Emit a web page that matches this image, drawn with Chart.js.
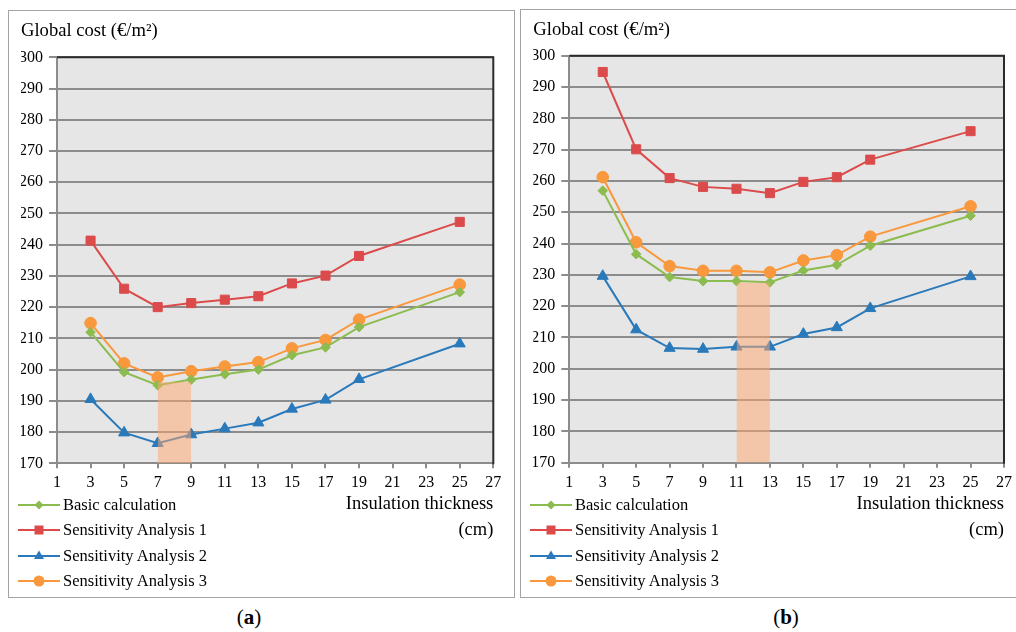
<!DOCTYPE html>
<html>
<head>
<meta charset="utf-8">
<script src="https://cdn.jsdelivr.net/npm/chart.js@4.4.1/dist/chart.umd.min.js"></script>
<style>
  body { margin: 0; background: #fff; font-family: "Liberation Serif", serif; }
  #page { position: relative; width: 1016px; height: 632px; overflow: hidden; }
  .panel { position: absolute; border: 1px solid #a3a3a3; box-sizing: border-box; }
  .panel canvas { position: absolute; left: 0; top: 0; }
  .legend { position: absolute; font-size: 16.5px; color: #000; }
  .legend .row { position: absolute; left: 0; height: 20px; display: flex; align-items: center; white-space: nowrap; }
  .legend svg { margin-right: 3px; }
  .caption { position: absolute; width: 80px; text-align: center; font-size: 21px; line-height: 24px; }
</style>
</head>
<body>
<div id="page">
  <div class="panel" style="left:8px; top:10px; width:507px; height:588px;">
    <canvas id="chartA" width="505" height="586"></canvas>
  </div>
  <div class="panel" style="left:520px; top:9px; width:498px; height:589px;">
    <canvas id="chartB" width="496" height="587"></canvas>
  </div>
  <div class="legend" id="legendA" style="left:18px; top:495px;"></div>
  <div class="legend" id="legendB" style="left:530px; top:495px;"></div>
  <div class="caption" style="left:209px; top:605px;">(<b>a</b>)</div>
  <div class="caption" style="left:746px; top:605px;">(<b>b</b>)</div>
</div>
<script>
// insulation thickness (cm)
const thickness = [3, 5, 7, 9, 11, 13, 15, 17, 19, 25];
const seriesNames = ['Basic calculation', 'Sensitivity Analysis 1', 'Sensitivity Analysis 2', 'Sensitivity Analysis 3'];

// panel (a) global cost (€/m²)
const basicA = [212.0, 199.2, 195.0, 196.8, 198.5, 200.0, 204.6, 207.1, 213.6, 224.8];
const sens1A = [241.3, 225.9, 220.0, 221.3, 222.4, 223.5, 227.6, 230.1, 236.4, 247.3];
const sens2A = [190.5, 179.8, 176.4, 179.2, 181.1, 183.0, 187.4, 190.3, 196.9, 208.3];
const sens3A = [214.9, 202.0, 197.5, 199.5, 201.0, 202.4, 206.8, 209.5, 216.0, 227.2];

// panel (b) global cost (€/m²)
const basicB = [256.9, 236.6, 229.3, 228.0, 228.0, 227.6, 231.4, 233.2, 239.3, 248.9];
const sens1B = [294.8, 270.1, 260.9, 258.1, 257.5, 256.1, 259.7, 261.2, 266.8, 275.9];
const sens2B = [229.6, 212.5, 206.6, 206.3, 207.0, 207.0, 211.1, 213.2, 219.3, 229.5];
const sens3B = [261.2, 240.4, 232.8, 231.3, 231.3, 230.8, 234.6, 236.3, 242.2, 251.9];

// shaded optimum range: thickness from/to and upper cost
const optimumA = [7, 9];
const optimumTopA = 196;
const optimumB = [11, 13];
const optimumTopB = 227.5;

// axes
const yMin = 170, yMax = 300, yStep = 10;
const xMin = 1, xMax = 27, xStep = 2;

const colors = ['#8cbc4f', '#dc4b4b', '#2a7abb', '#f9983c'];
const pointStyles = ['rectRot', 'rect', 'triangle', 'circle'];
const pointSizes = [4.8, 6.4, 6.4, 5.8];
const FONT = 'Liberation Serif';

const plotFrame = {
  id: 'plotFrame',
  beforeDraw(chart) {
    const { ctx, chartArea: a } = chart;
    ctx.save();
    ctx.fillStyle = '#e6e6e6';
    ctx.fillRect(a.left, a.top, a.width, a.height);
    ctx.restore();
  },
  beforeDatasetsDraw(chart) {
    const { ctx, chartArea: a } = chart;
    ctx.save();
    ctx.strokeStyle = '#2b2b2b';
    ctx.lineWidth = 2;
    ctx.beginPath();
    ctx.moveTo(a.left, a.top);
    ctx.lineTo(a.right, a.top);
    ctx.lineTo(a.right, a.bottom + 1);
    ctx.stroke();
    ctx.restore();
  }
};

function makeChart(id, series, band, bandTop, g) {
  const yAxisW = 36;
  const titleLH = 18.6 * 1.2;
  const titleTop = g.titleY - titleLH / 2;
  const xTitleLH = 26;
  const datasets = series.map((vals, i) => ({
    label: seriesNames[i],
    data: thickness.map((t, k) => ({ x: t, y: vals[k] })),
    borderColor: colors[i],
    backgroundColor: colors[i],
    borderWidth: 2,
    pointStyle: pointStyles[i],
    pointRadius: pointSizes[i],
    pointBorderWidth: 1,
    tension: 0
  }));
  datasets.push({
    label: 'optimum',
    data: [{ x: band[0], y: bandTop }, { x: band[1], y: bandTop }],
    borderColor: 'transparent',
    borderWidth: 0,
    pointRadius: 0,
    backgroundColor: 'rgba(255, 165, 110, 0.5)',
    fill: 'start',
    order: -1
  });
  return new Chart(document.getElementById(id), {
    type: 'line',
    data: { datasets },
    plugins: [plotFrame],
    options: {
      responsive: false,
      animation: false,
      layout: {
        padding: { left: g.left - yAxisW, right: g.w - g.right, top: 0, bottom: g.h - g.xBottom }
      },
      plugins: {
        legend: { display: false },
        tooltip: { enabled: false },
        title: {
          display: true,
          text: 'Global cost (€/m²)',
          align: 'start',
          color: '#000',
          font: { family: FONT, size: 18.6, weight: 'normal', lineHeight: 1.2 },
          padding: { top: titleTop, bottom: g.top - titleTop - titleLH }
        }
      },
      scales: {
        x: {
          type: 'linear',
          min: xMin, max: xMax,
          afterFit(scale) { scale.height = g.xBottom - g.bottom; },
          ticks: { stepSize: xStep, color: '#000', padding: 5, maxRotation: 0, font: { family: FONT, size: 16 } },
          grid: { drawOnChartArea: false, drawTicks: true, tickLength: 5, color: '#8c8c8c', lineWidth: 2 },
          border: { color: '#8c8c8c', width: 2 },
          title: {
            display: true,
            text: ['Insulation thickness', '(cm)'],
            align: 'end',
            color: '#000',
            font: { family: FONT, size: 18.5, lineHeight: xTitleLH / 18.5 },
            padding: { top: 0, bottom: 0 }
          }
        },
        y: {
          min: yMin, max: yMax,
          afterFit(scale) { scale.width = yAxisW; },
          ticks: { stepSize: yStep, color: '#000', padding: 6, font: { family: FONT, size: 16 } },
          grid: { color: '#8c8c8c', lineWidth: 2, tickLength: 8 },
          border: { color: '#8c8c8c', width: 2 }
        }
      }
    }
  });
}

makeChart('chartA', [basicA, sens1A, sens2A, sens3A], optimumA, optimumTopA,
  { left: 48, right: 484.3, top: 46.3, bottom: 452.3, w: 505, h: 586, titleY: 20.5, xBottom: 532.5 });
makeChart('chartB', [basicB, sens1B, sens2B, sens3B], optimumB, optimumTopB,
  { left: 48.3, right: 485.7, top: 45.7, bottom: 452.7, w: 496, h: 587, titleY: 20, xBottom: 533.5 });

// legends
function markerSvg(i) {
  const c = colors[i];
  let shape;
  if (i === 0) shape = `<polygon points="21,2.5 25.5,7 21,11.5 16.5,7" fill="${c}"/>`;
  else if (i === 1) shape = `<rect x="16.5" y="2.5" width="9" height="9" fill="${c}"/>`;
  else if (i === 2) shape = `<polygon points="21,1.5 26,10 16,10" fill="${c}"/>`;
  else shape = `<circle cx="21" cy="7" r="5.5" fill="${c}"/>`;
  return `<svg width="42" height="14" viewBox="0 0 42 14"><line x1="0" y1="7" x2="42" y2="7" stroke="${c}" stroke-width="2"/>${shape}</svg>`;
}
['legendA', 'legendB'].forEach(id => {
  const box = document.getElementById(id);
  seriesNames.forEach((name, i) => {
    const row = document.createElement('div');
    row.className = 'row';
    row.style.top = (i * 25.4) + 'px';
    row.innerHTML = markerSvg(i) + '<span>' + name + '</span>';
    box.appendChild(row);
  });
});
</script>
</body>
</html>
